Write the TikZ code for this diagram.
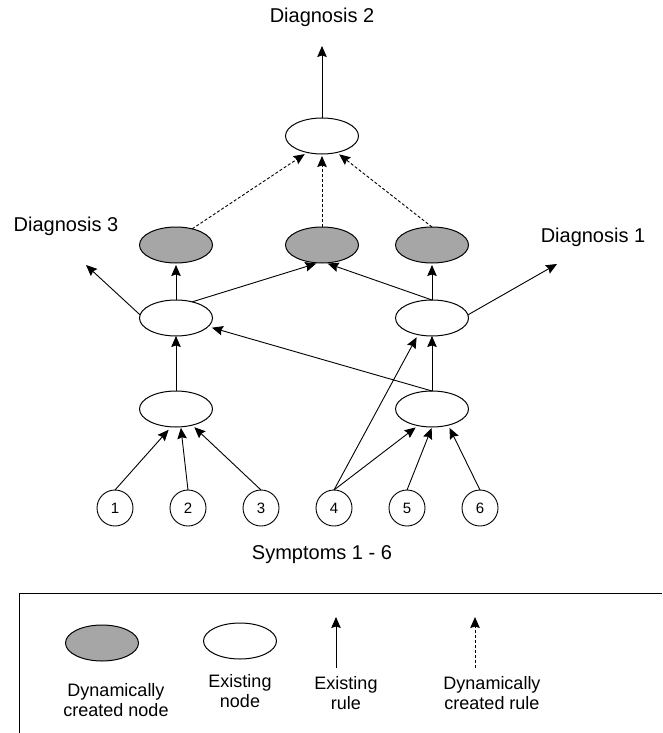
\documentclass[tikz,border=0pt]{standalone}
\usepackage{fontspec}
\setmainfont{Liberation Sans}
\usetikzlibrary{shapes.geometric,arrows.meta}
\definecolor{dyngray}{HTML}{A6A6A6}
\begin{document}
\begin{tikzpicture}[x=1pt,y=-1pt,
  every node/.style={inner sep=0pt, outer sep=0pt},
  rulenode/.style={ellipse, draw, line width=1pt, minimum width=73pt, minimum height=36pt, fill=white},
  dynnode/.style={rulenode, fill=dyngray},
  symptom/.style={circle, draw, line width=0.9pt, minimum size=36pt, font=\fontsize{15}{18}\selectfont},
  captext/.style={font=\fontsize{20}{24}\selectfont},
  legendtext/.style={font=\fontsize{18}{20}\selectfont, align=center},
  rulearrow/.style={line width=0.9pt, shorten >=2pt, -{Stealth[length=11pt,width=9.5pt,inset=1.5pt]}},
  dynarrow/.style={rulearrow, dash pattern=on 3pt off 2pt},
]
\useasboundingbox (0,0) rectangle (662,733);

% diagnoses and their free arrow ends
\node[captext] (d2) at (322,17) {Diagnosis 2};
\node[captext] (d3) at (66,226) {Diagnosis 3};
\node[captext] (d1) at (593,237) {Diagnosis 1};
\coordinate (d2tip) at (322,46);
\coordinate (d3tip) at (86,265);
\coordinate (d1tip) at (557,264);

% rule nodes
\node[rulenode] (top) at (322,136) {};
\node[dynnode] (g1) at (176,245) {};
\node[dynnode] (g2) at (322,245) {};
\node[dynnode] (g3) at (432,245) {};
\node[rulenode] (l2) at (176,318) {};
\node[rulenode] (r2) at (432,318) {};
\node[rulenode] (l1) at (176,409) {};
\node[rulenode] (r1) at (432,409) {};

% symptoms
\foreach \i/\x in {1/115,2/188,3/261,4/334,5/407,6/480}
  \node[symptom] (s\i) at (\x,508) {\i};
\node[captext] (symp) at (322,555) {Symptoms 1 - 6};

% dynamically created rules
\draw[dynarrow, shorten >=3pt] (g1.45) -- (top.228);
\draw[dynarrow] (g2.north) -- (top.south);
\draw[dynarrow, shorten >=3pt] (g3.north) -- (top.-48);

% existing rules
\draw[rulearrow, shorten >=0pt] (top.north) -- (d2tip);
\draw[rulearrow, shorten >=0pt] (l2.175) -- (d3tip);
\draw[rulearrow] (l2.north) -- (g1.south);
\draw[rulearrow] (l2.45) -- (g2.258);
\draw[rulearrow] (r2.north) -- (g2.282);
\draw[rulearrow] (r2.north) -- (g3.south);
\draw[rulearrow, shorten >=0pt] (r2.5) -- (d1tip);
\draw[rulearrow, shorten >=4pt] (r1.north) -- (l2.-15);
\draw[rulearrow, shorten >=0pt] (l1.north) -- (l2.south);
\draw[rulearrow, shorten >=0pt] (r1.north) -- (r2.south);
\draw[rulearrow, shorten >=3pt] (s4.north) -- (r2.-130);
\draw[rulearrow, shorten >=3pt] (s4.north) -- (r1.-130);
\draw[rulearrow, shorten >=1pt] (s5.north) -- (r1.south);
\draw[rulearrow, shorten >=3pt] (s6.north) -- (r1.-45);
\draw[rulearrow, shorten >=4pt] (s1.north) -- (l1.-105);
\draw[rulearrow, shorten >=1pt] (s2.north) -- (l1.-75);
\draw[rulearrow, shorten >=3pt] (s3.north) -- (l1.-45);

% legend
\draw[line width=0.9pt] (662,593) -- (19,593) -- (19,733);
\node[dynnode] (lg) at (102,643) {};
\node[rulenode] (lw) at (240,641) {};
\coordinate (ea0) at (336,668);
\coordinate (ea1) at (336,617);
\coordinate (da0) at (475,668);
\coordinate (da1) at (475,617);
\draw[rulearrow, shorten >=0pt] (ea0) -- (ea1);
\draw[dynarrow, shorten >=0pt] (da0) -- (da1);
\node[legendtext] (lgt) at (116,700) {Dynamically\\created node};
\node[legendtext] (lwt) at (240,691) {Existing\\node};
\node[legendtext] (eat) at (346,693) {Existing\\rule};
\node[legendtext] (dat) at (492,693) {Dynamically\\created rule};
\end{tikzpicture}
\end{document}
